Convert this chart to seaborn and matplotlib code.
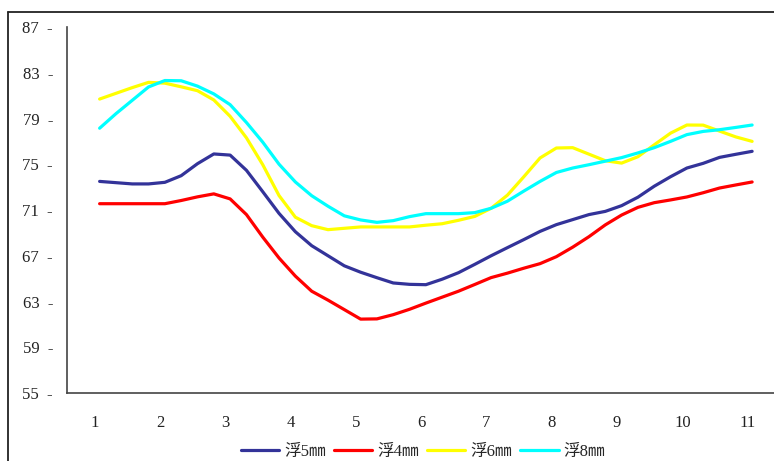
import numpy as np
import pandas as pd
import matplotlib
matplotlib.use('Agg')
import matplotlib.pyplot as plt
from matplotlib.lines import Line2D
import seaborn as sns

# positions along the axis, quarter steps between the labels 1..11
pos = [1 + 0.25 * i for i in range(41)]

fu5 = [73.5, 73.39, 73.28, 73.28, 73.42, 74.0, 75.05, 75.9, 75.8, 74.47,
       72.6, 70.7, 69.1, 67.88, 67.0, 66.12, 65.56, 65.08, 64.62, 64.5,
       64.47, 64.95, 65.52, 66.25, 67.0, 67.71, 68.41, 69.13, 69.72, 70.16,
       70.6, 70.88, 71.38, 72.12, 73.08, 73.91, 74.67, 75.08, 75.6, 75.87, 76.13]
fu4 = [71.55, 71.55, 71.55, 71.55, 71.55, 71.83, 72.15, 72.41, 71.97, 70.6,
       68.63, 66.8, 65.22, 63.9, 63.12, 62.29, 61.46, 61.48, 61.85, 62.32,
       62.86, 63.38, 63.9, 64.49, 65.09, 65.48, 65.91, 66.31, 66.92, 67.75,
       68.67, 69.7, 70.56, 71.23, 71.64, 71.88, 72.14, 72.51, 72.92, 73.19, 73.45]
fu6 = [80.7, 81.2, 81.7, 82.16, 82.09, 81.77, 81.43, 80.62, 79.19, 77.31,
       74.96, 72.26, 70.37, 69.63, 69.28, 69.4, 69.52, 69.52, 69.52, 69.52,
       69.67, 69.8, 70.1, 70.44, 71.15, 72.3, 73.9, 75.55, 76.42, 76.45,
       75.88, 75.31, 75.1, 75.66, 76.7, 77.72, 78.43, 78.42, 77.9, 77.39, 77.0]
fu8 = [78.15, 79.42, 80.59, 81.76, 82.32, 82.3, 81.83, 81.15, 80.21, 78.65,
       76.93, 75.0, 73.45, 72.25, 71.33, 70.49, 70.13, 69.92, 70.07, 70.42,
       70.68, 70.68, 70.68, 70.77, 71.15, 71.77, 72.65, 73.5, 74.28, 74.67,
       74.96, 75.27, 75.58, 75.99, 76.45, 77.0, 77.59, 77.87, 78.02, 78.22, 78.43]

names = ['浮5㎜', '浮4㎜', '浮6㎜', '浮8㎜']
colors = ['#333399', '#ff0000', '#ffff00', '#00ffff']
x_labels = [str(i) for i in range(1, 12)]
y_ticks = [55, 59, 63, 67, 71, 75, 79, 83, 87]

frames = []
for name, vals in zip(names, [fu5, fu4, fu6, fu8]):
    frames.append(pd.DataFrame({'pos': pos, 'val': vals, 'series': name}))
df = pd.concat(frames, ignore_index=True)

sns.set_style('white')
plt.rcParams['font.family'] = ['Liberation Serif', 'Noto Sans CJK SC', 'DejaVu Sans']

fig = plt.figure(figsize=(7.74, 4.61), dpi=100)
ax = fig.add_axes([67 / 774, 68 / 461, 1 - 67 / 774, 366 / 461])

sns.lineplot(data=df, x='pos', y='val', hue='series', hue_order=names,
             palette=dict(zip(names, colors)), linewidth=2.3, ax=ax,
             legend=False, sort=False)

ax.set_xlim(0.5, 0.5 + 707 / 65.25)
ax.set_ylim(55, 87)
ax.set_xlabel('')
ax.set_ylabel('')

# category labels sit between the boundary ticks
ax.set_xticks([i - 0.07 for i in range(1, 12)])
ax.set_xticklabels(x_labels, fontsize=12, color='#222222')
ax.set_xticks([i + 0.5 for i in range(0, 11)], minor=True)
ax.tick_params(axis='x', which='major', length=0, pad=16)
ax.tick_params(axis='x', which='minor', direction='out', length=4, width=1.2,
               color='#444444')

ax.set_yticks(y_ticks)
ax.set_yticklabels([f'{v}  -' for v in y_ticks], fontsize=12, color='#222222')
ax.tick_params(axis='y', length=0, pad=10)

for side in ['top', 'right']:
    ax.spines[side].set_visible(False)
for side in ['left', 'bottom']:
    ax.spines[side].set_color('#444444')
    ax.spines[side].set_linewidth(1.2)

# outer chart frame (cut off at the right and bottom)
fig.add_artist(Line2D([8 / 774, 1], [1 - 12 / 461, 1 - 12 / 461],
                      color='#222222', lw=1.3, transform=fig.transFigure))
fig.add_artist(Line2D([8 / 774, 8 / 774], [0, 1 - 12 / 461],
                      color='#222222', lw=1.3, transform=fig.transFigure))

handles = [Line2D([], [], color=c, lw=2.3) for c in colors]
fig.legend(handles, names, loc='center', bbox_to_anchor=(423 / 774, 9 / 461),
           ncol=4, frameon=False, fontsize=12, handlelength=2.3,
           handletextpad=0.3, columnspacing=0.5, borderaxespad=0)

fig.savefig('out.png', dpi=100)
